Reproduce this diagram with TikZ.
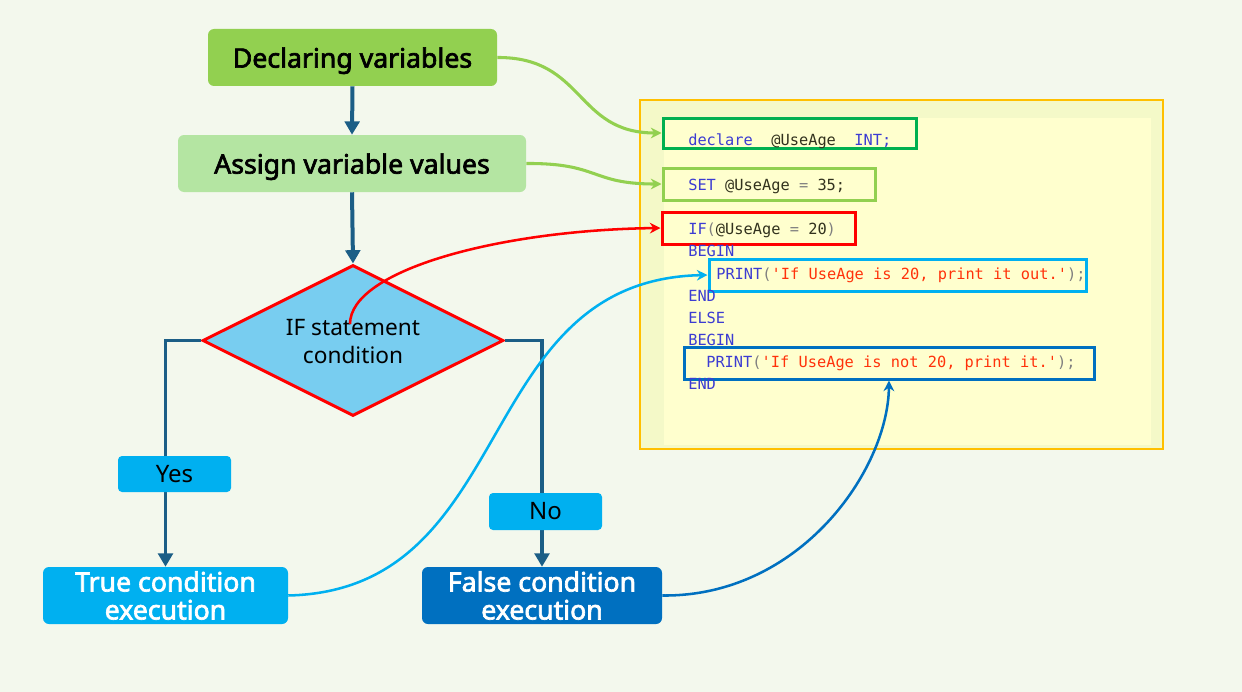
\documentclass[tikz,border=0pt]{standalone}
\usepackage{fontspec}
\newfontfamily\labfont{Noto Sans}
\newfontfamily\medfont[FakeBold=2.5]{Noto Sans}
\newfontfamily\codefont{DejaVu Sans Mono}
\usetikzlibrary{shapes.geometric,arrows.meta}
\definecolor{bg}{RGB}{243,248,237}
\definecolor{gA}{RGB}{146,208,80}
\definecolor{gB}{RGB}{180,229,162}
\definecolor{gC}{RGB}{0,176,80}
\definecolor{flow}{RGB}{27,94,134}
\definecolor{cyanA}{RGB}{0,176,240}
\definecolor{blueA}{RGB}{0,112,192}
\definecolor{redA}{RGB}{255,0,0}
\definecolor{diafill}{RGB}{120,205,240}
\definecolor{panelout}{RGB}{244,249,200}
\definecolor{panelin}{RGB}{255,255,206}
\definecolor{panelbd}{RGB}{255,192,0}
\definecolor{kwc}{RGB}{60,60,210}
\definecolor{varc}{RGB}{50,50,30}
\definecolor{grc}{RGB}{128,128,128}
\definecolor{strc}{RGB}{255,50,10}
\newcommand{\kw}[1]{\textcolor{kwc}{#1}}
\newcommand{\vr}[1]{\textcolor{varc}{#1}}
\newcommand{\gr}[1]{\textcolor{grc}{#1}}
\newcommand{\st}[1]{\textcolor{strc}{#1}}
\begin{document}
\begin{tikzpicture}[x=0.75pt,y=-0.75pt,
  box/.style={rounded corners=4.5pt, inner sep=0pt, align=center},
  flowline/.style={draw=flow, line width=3pt},
  flowarrow/.style={flowline, -{Triangle[width=11pt,length=10pt]}},
  codetxt/.style={anchor=base west, inner sep=0pt, font=\codefont\fontsize{11.5pt}{13pt}\selectfont},
  codebox/.style={line width=2.25pt, inner sep=0pt, minimum height=24pt},
  conn/.style={line width=1.9pt, -{Stealth[width=8pt,length=8pt]}},
  headfont/.style={font=\medfont\fontsize{20pt}{21pt}\selectfont}
]
\useasboundingbox[fill=bg] (0,0) rectangle (1242,692);

% code panel
\node[fill=panelout, draw=panelbd, line width=1.5pt, minimum width=392.25pt, minimum height=261.75pt, inner sep=0pt] (panel) at (901.5,274.5) {};
\node[fill=panelin, minimum width=365.25pt, minimum height=245.25pt, inner sep=0pt] (inner) at (907.5,281.5) {};

% code boxes
\node[codebox, draw=gC, minimum width=189.75pt, minimum height=22.5pt] (b1) at (789.5,133) {};
\node[codebox, draw=gA, minimum width=159pt] (b2) at (769,184) {};
\node[codebox, draw=redA, minimum width=144.75pt] (b3) at (758.5,228) {};
\node[codebox, draw=cyanA, minimum width=282.75pt] (b4) at (897.5,275) {};
\node[codebox, draw=blueA, minimum width=307.5pt] (b5) at (889,363) {};

% code text
\node[codetxt] (l1) at (688,145) {\kw{declare}\ \ \vr{@UseAge}\ \ \kw{INT;}};
\node[codetxt] (l2) at (688,190) {\kw{SET} \vr{@UseAge} \gr{=} \vr{35;}};
\node[codetxt] (l3) at (688,234) {\kw{IF}\gr{(}\vr{@UseAge} \gr{=} \vr{20}\gr{)}};
\node[codetxt] (l4) at (688,256) {\kw{BEGIN}};
\node[codetxt] (l5) at (716,279) {\kw{PRINT}\gr{(}\st{'If UseAge is 20, print it out.'}\gr{);}};
\node[codetxt] (l6) at (688,301) {\kw{END}};
\node[codetxt] (l7) at (688,323) {\kw{ELSE}};
\node[codetxt] (l8) at (688,345) {\kw{BEGIN}};
\node[codetxt] (l9) at (706,367) {\kw{PRINT}\gr{(}\st{'If UseAge is not 20, print it.'}\gr{);}};
\node[codetxt] (l10) at (688,389) {\kw{END}};

% flow nodes
\node[box, fill=gA, minimum width=216.75pt, minimum height=42.75pt, text depth=0pt, headfont] (decl) at (352.5,57.5) {Declaring variables};
\node[box, fill=gB, minimum width=261pt, minimum height=42.75pt, text depth=0pt, headfont] (assign) at (352,163.5) {Assign variable values};
\node[diamond, draw=redA, line width=2.25pt, fill=diafill, inner sep=0pt, minimum width=225.75pt, minimum height=113.25pt] (dia) at (353,340.5) {};
\node[align=center, inner sep=0pt, font=\labfont\fontsize{17pt}{21pt}\selectfont] (diat) at (353,342) {IF statement\\condition};
\node[box, fill=cyanA, minimum width=183.75pt, minimum height=42.75pt, text=white, headfont] (true) at (165.5,595.5) {True condition\\execution};
\node[box, fill=blueA, minimum width=180pt, minimum height=42.75pt, text=white, headfont] (false) at (542,595.5) {False condition\\execution};

% flow connectors
\draw[flowarrow] (decl.south) -- (assign.north);
\draw[flowarrow] (assign.south) -- (dia.north);
\draw[flowarrow, line width=2.6pt] (dia.west) -| (true.north);
\draw[flowarrow, line width=2.6pt] (dia.east) -| (false.north);

\node[box, rounded corners=3pt, fill=cyanA, minimum width=84.75pt, minimum height=27pt, font=\labfont\fontsize{18pt}{19pt}\selectfont] (yes) at (174.5,474) {Yes};
\node[box, rounded corners=3pt, fill=cyanA, minimum width=84.75pt, minimum height=27.75pt, font=\labfont\fontsize{18pt}{19pt}\selectfont] (no) at (545.5,511.5) {No};

% colored connectors
\coordinate (rs) at (350,324);
\draw[conn, draw=gA, line width=2.3pt] (decl.east) .. controls (585,57) and (575,133) .. (b1.west);
\draw[conn, draw=gA, line width=2.3pt] (assign.east) .. controls (600,163) and (590,184) .. (b2.west);
\draw[conn, draw=redA] (rs) .. controls (350,270) and (500,230) .. (b3.west);
\draw[conn, draw=cyanA] (true.east) .. controls (520,590) and (470,280) .. (b4.west);
\draw[conn, draw=blueA] (false.east) .. controls (800,597) and (888,470) .. (b5.south);
\end{tikzpicture}
\end{document}
